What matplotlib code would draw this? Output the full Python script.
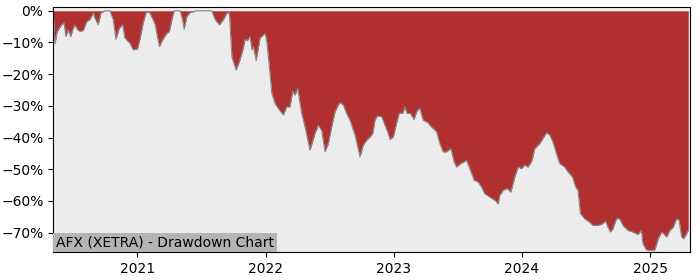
import datetime as dt

import matplotlib
matplotlib.use("Agg")
import matplotlib.dates as mdates
import matplotlib.pyplot as plt
import matplotlib.ticker as mtick

TITLE = "AFX (XETRA) - Drawdown Chart"

# time as decimal years, drawdown in percent
years = [
    2020.345, 2020.359, 2020.376, 2020.411, 2020.429, 2020.444, 2020.462, 2020.481, 2020.497, 2020.514,
    2020.532, 2020.553, 2020.579, 2020.606, 2020.631, 2020.657, 2020.670, 2020.696, 2020.717, 2020.748,
    2020.787, 2020.813, 2020.834, 2020.860, 2020.886, 2020.904, 2020.943, 2020.969, 2021.000, 2021.021,
    2021.047, 2021.068, 2021.094, 2021.120, 2021.138, 2021.171, 2021.198, 2021.229, 2021.249, 2021.268,
    2021.286, 2021.333, 2021.351, 2021.364, 2021.385, 2021.411, 2021.463, 2021.541, 2021.580, 2021.606,
    2021.639, 2021.670, 2021.697, 2021.717, 2021.736, 2021.769, 2021.795, 2021.822, 2021.839, 2021.857,
    2021.878, 2021.892, 2021.904, 2021.925, 2021.956, 2021.995, 2022.009, 2022.029, 2022.048, 2022.073,
    2022.099, 2022.138, 2022.164, 2022.190, 2022.211, 2022.229, 2022.250, 2022.281, 2022.307, 2022.346,
    2022.385, 2022.411, 2022.437, 2022.463, 2022.489, 2022.515, 2022.541, 2022.567, 2022.580, 2022.606,
    2022.632, 2022.658, 2022.679, 2022.697, 2022.715, 2022.736, 2022.761, 2022.788, 2022.814, 2022.835,
    2022.853, 2022.871, 2022.905, 2022.931, 2022.952, 2022.970, 2022.995, 2023.022, 2023.042, 2023.073,
    2023.086, 2023.104, 2023.131, 2023.157, 2023.182, 2023.203, 2023.229, 2023.268, 2023.281, 2023.334,
    2023.359, 2023.385, 2023.411, 2023.445, 2023.471, 2023.489, 2023.523, 2023.567, 2023.593, 2023.627,
    2023.658, 2023.684, 2023.710, 2023.749, 2023.788, 2023.814, 2023.827, 2023.853, 2023.887, 2023.913,
    2023.944, 2023.970, 2023.996, 2024.022, 2024.048, 2024.079, 2024.100, 2024.139, 2024.164, 2024.191,
    2024.217, 2024.242, 2024.269, 2024.295, 2024.334, 2024.359, 2024.394, 2024.419, 2024.437, 2024.456,
    2024.489, 2024.528, 2024.554, 2024.593, 2024.620, 2024.653, 2024.671, 2024.690, 2024.710, 2024.737,
    2024.762, 2024.788, 2024.827, 2024.866, 2024.905, 2024.931, 2024.944, 2024.970, 2025.009, 2025.035,
    2025.061, 2025.087, 2025.105, 2025.126, 2025.152, 2025.178, 2025.204, 2025.224, 2025.243, 2025.261,
    2025.295,
]
drawdown = [
    0.0, -10.4, -6.5, -4.4, -3.8, -8.1, -6.0, -8.1, -6.0, -4.4,
    -5.8, -6.5, -6.2, -3.4, -2.8, -0.7, -2.3, -4.4, -0.7, 0.0,
    0.0, -2.8, -9.0, -5.5, -4.4, -8.6, -10.2, -12.3, -12.1, -8.6,
    -3.4, -0.5, -0.5, -2.6, -4.4, -11.3, -9.0, -7.1, -6.5, -2.8,
    0.0, 0.0, -2.8, -5.8, -1.8, -0.5, 0.0, 0.0, 0.0, -2.8,
    -4.4, -2.8, -0.7, -0.7, -14.5, -18.7, -16.0, -12.3, -9.0, -9.4,
    -8.1, -12.3, -11.3, -15.7, -8.6, -7.1, -9.7, -17.6, -26.0, -29.2,
    -30.8, -32.9, -30.3, -30.3, -25.5, -26.6, -24.5, -32.3, -36.6, -44.0,
    -38.7, -36.1, -37.7, -44.5, -41.9, -36.6, -31.9, -29.7, -29.0, -29.7,
    -32.4, -34.5, -37.1, -39.2, -42.4, -46.1, -42.4, -40.8, -39.8, -38.7,
    -34.5, -33.2, -33.4, -36.1, -38.2, -40.6, -39.8, -35.5, -32.4, -32.2,
    -30.3, -32.4, -32.4, -34.3, -31.5, -30.8, -34.5, -35.3, -36.1, -38.2,
    -41.9, -44.5, -44.5, -43.5, -47.7, -49.3, -48.2, -47.2, -49.8, -53.5,
    -54.0, -55.6, -57.7, -58.8, -59.8, -60.9, -58.2, -56.6, -56.1, -57.2,
    -52.4, -49.3, -49.8, -48.7, -49.3, -47.2, -43.5, -41.9, -40.3, -38.5,
    -39.2, -41.4, -45.0, -48.2, -49.3, -50.8, -52.4, -55.6, -56.6, -64.0,
    -65.6, -66.7, -67.7, -67.7, -67.4, -66.4, -68.3, -69.8, -68.8, -65.6,
    -65.6, -67.7, -69.3, -69.8, -70.6, -69.3, -73.5, -75.4, -75.6, -75.4,
    -71.9, -69.8, -70.4, -71.4, -69.3, -68.3, -65.6, -66.1, -71.4, -71.9,
    -69.3,
]
assert len(years) == len(drawdown)


def to_date(y):
    start = dt.datetime(int(y), 1, 1)
    return start + dt.timedelta(days=(y - int(y)) * 365.25)


dates = [to_date(y) for y in years]

fig = plt.figure(figsize=(7, 2.8), dpi=100)
ax = fig.add_axes([0.076, 0.099, 0.909, 0.876])
ax.set_facecolor("#ececec")

ax.fill_between(dates, drawdown, 0, color="#b03030", lw=0)
ax.plot(dates, drawdown, color="#888888", lw=0.8)

ax.set_xlim(dates[0], to_date(2025.305))
ax.set_ylim(-76.2, 1.2)
ax.yaxis.set_major_formatter(mtick.PercentFormatter(xmax=100, decimals=0))
ax.yaxis.set_major_locator(mtick.MultipleLocator(10))
ax.xaxis.set_major_locator(mdates.YearLocator())
ax.xaxis.set_major_formatter(mdates.DateFormatter("%Y"))

ax.text(0.004, 0.012, TITLE, transform=ax.transAxes, ha="left", va="bottom",
        fontsize=10, bbox=dict(facecolor="#b4b4b4", edgecolor="none", pad=2))

fig.savefig("out.png", dpi=100)
